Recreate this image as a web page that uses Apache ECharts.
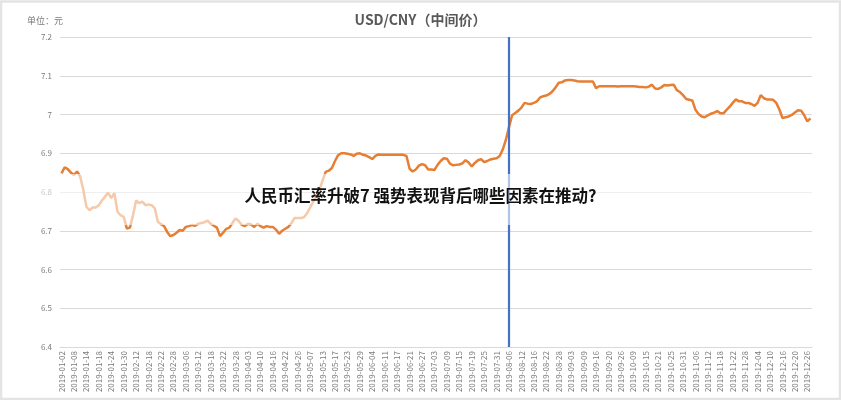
<!DOCTYPE html>
<html>
<head>
<meta charset="utf-8">
<script src="https://cdn.jsdelivr.net/npm/echarts@6/dist/echarts.min.js"></script>
<style>
  html, body { margin: 0; padding: 0; background: #fff; }
  #main { width: 841px; height: 400px; }
</style>
</head>
<body>
<div id="main"></div>
<script>
// trading days of 2019, per month
var jan = [2, 3, 4, 7, 8, 9, 10, 11, 14, 15, 16, 17, 18, 21, 22, 23, 24, 25, 28, 29, 30, 31];
var feb = [1, 11, 12, 13, 14, 15, 18, 19, 20, 21, 22, 25, 26, 27, 28];
var mar = [1, 4, 5, 6, 7, 8, 11, 12, 13, 14, 15, 18, 19, 20, 21, 22, 25, 26, 27, 28, 29];
var apr = [1, 2, 3, 4, 8, 9, 10, 11, 12, 15, 16, 17, 18, 19, 22, 23, 24, 25, 26, 29, 30];
var may = [6, 7, 8, 9, 10, 13, 14, 15, 16, 17, 20, 21, 22, 23, 24, 27, 28, 29, 30, 31];
var jun = [3, 4, 5, 6, 10, 11, 12, 13, 14, 17, 18, 19, 20, 21, 24, 25, 26, 27, 28];
var jul = [1, 2, 3, 4, 5, 8, 9, 10, 11, 12, 15, 16, 17, 18, 19, 22, 23, 24, 25, 26, 29, 30, 31];
var aug = [1, 2, 5, 6, 7, 8, 9, 12, 13, 14, 15, 16, 19, 20, 21, 22, 23, 26, 27, 28, 29, 30];
var sep = [2, 3, 4, 5, 6, 9, 10, 11, 12, 16, 17, 18, 19, 20, 23, 24, 25, 26, 27, 30];
var oct = [8, 9, 10, 11, 14, 15, 16, 17, 18, 21, 22, 23, 24, 25, 28, 29, 30, 31];
var nov = [1, 4, 5, 6, 7, 8, 11, 12, 13, 14, 15, 18, 19, 20, 21, 22, 25, 26, 27, 28, 29];
var dec = [2, 3, 4, 5, 6, 9, 10, 11, 12, 13, 16, 17, 18, 19, 20, 23, 24, 25, 26, 27];

// USD/CNY central parity
var usdCny = [
  6.848, 6.864, 6.859, 6.850, 6.844, 6.853, 6.840, 6.805, 6.762, 6.753,
  6.760, 6.760, 6.766, 6.778, 6.788, 6.798, 6.784, 6.797, 6.749, 6.740,
  6.736, 6.706, 6.708, 6.740, 6.778, 6.771, 6.775, 6.766, 6.768, 6.766,
  6.758, 6.723, 6.717, 6.712, 6.697, 6.686, 6.689, 6.695, 6.702, 6.700,
  6.710, 6.712, 6.715, 6.713, 6.718, 6.720, 6.722, 6.726, 6.718, 6.713,
  6.708, 6.686, 6.695, 6.705, 6.708, 6.720, 6.732, 6.725, 6.715, 6.712,
  6.718, 6.716, 6.710, 6.718, 6.712, 6.708, 6.712, 6.710, 6.710, 6.703,
  6.692, 6.700, 6.705, 6.710, 6.720, 6.733, 6.733, 6.733, 6.735, 6.745,
  6.760, 6.775, 6.790, 6.805, 6.830, 6.852, 6.855, 6.862, 6.880, 6.895,
  6.900, 6.900, 6.899, 6.897, 6.893, 6.899, 6.900, 6.896, 6.894, 6.890,
  6.885, 6.893, 6.897, 6.896, 6.896, 6.896, 6.896, 6.896, 6.896, 6.896,
  6.896, 6.893, 6.860, 6.853, 6.858, 6.868, 6.872, 6.869, 6.858, 6.858,
  6.857, 6.870, 6.880, 6.887, 6.886, 6.873, 6.869, 6.870, 6.871, 6.874,
  6.882, 6.876, 6.866, 6.875, 6.882, 6.885, 6.877, 6.880, 6.884, 6.886,
  6.887, 6.893, 6.910, 6.935, 6.968, 6.998, 7.004, 7.010, 7.018, 7.030,
  7.028, 7.027, 7.030, 7.034, 7.044, 7.047, 7.049, 7.053, 7.060, 7.070,
  7.082, 7.083,
  7.088, 7.089, 7.089, 7.088, 7.086, 7.085, 7.085, 7.085, 7.085, 7.085,
  7.068, 7.073, 7.073, 7.073, 7.073, 7.073, 7.073, 7.072, 7.073, 7.073,
  7.073, 7.073, 7.073, 7.072, 7.071, 7.071, 7.070, 7.072, 7.077, 7.067,
  7.066, 7.070, 7.076, 7.075, 7.076, 7.077, 7.063, 7.058, 7.050, 7.040,
  7.038, 7.036, 7.012, 7.001, 6.995, 6.993, 6.998, 7.002, 7.005, 7.009,
  7.003, 7.003, 7.012, 7.020, 7.030, 7.039, 7.034, 7.034, 7.030, 7.030,
  7.027, 7.022, 7.030, 7.050, 7.042, 7.039, 7.039, 7.038, 7.030, 7.013,
  6.991, 6.993, 6.995, 6.999, 7.005, 7.011, 7.010, 6.998, 6.982, 6.990
];

var breakDate = '2019-08-06';
var yMin = 6.4, yMax = 7.2, yStep = 0.1;

function pad(n) {
  return (n < 10 ? '0' : '') + n;
}

var months = [jan, feb, mar, apr, may, jun, jul, aug, sep, oct, nov, dec];
var dates = [];
months.forEach(function (days, m) {
  days.forEach(function (d) {
    dates.push('2019-' + pad(m + 1) + '-' + pad(d));
  });
});

var font = '"Noto Sans CJK SC", "Noto Sans", sans-serif';
var chart = echarts.init(document.getElementById('main'), null, { renderer: 'canvas' });

var option = {
  backgroundColor: '#fff',
  animation: false,
  title: {
    text: 'USD/CNY（中间价）',
    left: 'center',
    top: 8,
    textStyle: {
      fontFamily: font,
      fontSize: 14,
      fontWeight: 'bold',
      color: '#595959'
    }
  },
  grid: {
    left: 60,
    right: 29,
    top: 37,
    bottom: 53
  },
  xAxis: {
    type: 'category',
    data: dates,
    boundaryGap: true,
    axisLine: { lineStyle: { color: '#d9d9d9' } },
    axisTick: { show: false },
    axisLabel: {
      interval: 3,
      rotate: 90,
      margin: 4,
      fontSize: 8,
      fontFamily: font,
      color: '#7a7a7a'
    }
  },
  yAxis: {
    type: 'value',
    min: yMin,
    max: yMax,
    interval: yStep,
    axisLine: { show: false },
    axisTick: { show: false },
    axisLabel: {
      fontSize: 8,
      fontFamily: font,
      color: '#7a7a7a',
      margin: 8
    },
    splitLine: { lineStyle: { color: '#d9d9d9', width: 1 } }
  },
  series: [{
    name: 'USD/CNY',
    type: 'line',
    data: usdCny,
    showSymbol: false,
    lineStyle: { color: '#E67E33', width: 2.5 },
    itemStyle: { color: '#E67E33' },
    markLine: {
      silent: true,
      symbol: ['none', 'none'],
      label: { show: false },
      lineStyle: { color: '#4472C4', width: 2.2, type: 'solid' },
      data: [{ xAxis: breakDate }]
    }
  }],
  graphic: {
    elements: [{
      type: 'text',
      left: 27,
      top: 16,
      style: {
        text: '单位：元',
        font: '9px ' + font,
        fill: '#7a7a7a'
      }
    }, {
      type: 'rect',
      z: 100,
      shape: { x: 0, y: 174, width: 841, height: 51 },
      style: { fill: 'rgba(255,255,255,0.58)' }
    }, {
      type: 'text',
      z: 101,
      left: 'center',
      top: 187,
      style: {
        text: '人民币汇率升破7 强势表现背后哪些因素在推动?',
        font: 'bold 16.5px ' + font,
        fill: '#111'
      }
    }, {
      type: 'rect',
      z: 102,
      shape: { x: 1, y: 1.5, width: 839, height: 397.5 },
      style: { fill: 'none', stroke: '#e4e4e4', lineWidth: 2.5 }
    }]
  }
};

chart.setOption(option);
</script>
</body>
</html>
